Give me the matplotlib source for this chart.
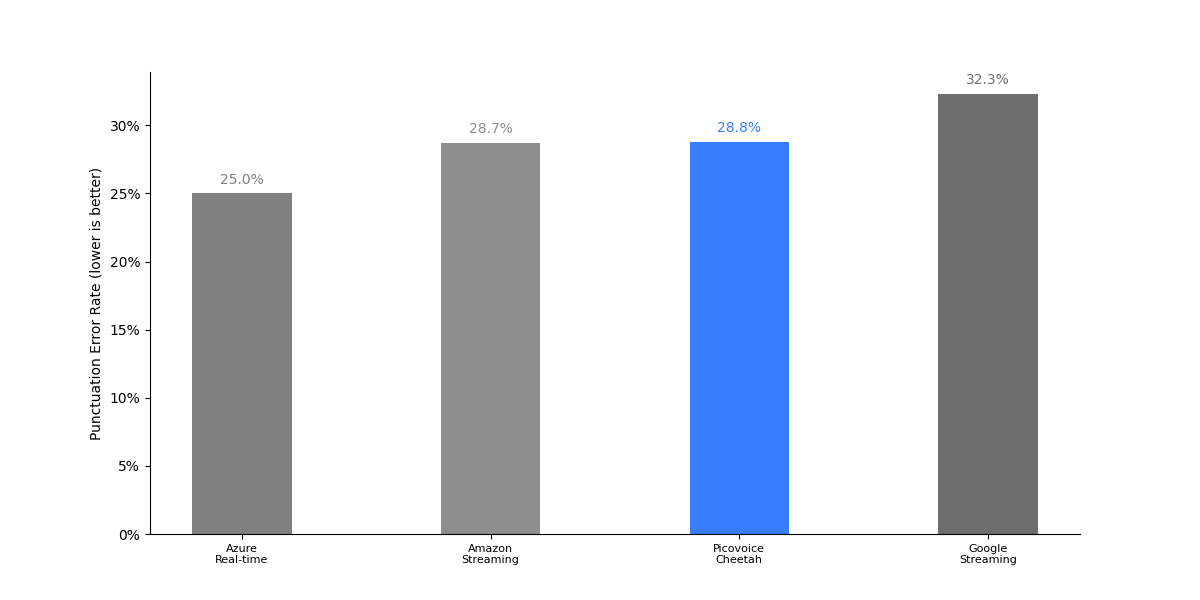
import matplotlib
matplotlib.use("Agg")
import matplotlib.pyplot as plt
from matplotlib.ticker import FuncFormatter

engines = ["Azure\nReal-time", "Amazon\nStreaming", "Picovoice\nCheetah", "Google\nStreaming"]
error_rates = [25.0, 28.7, 28.8, 32.3]
colors = ["#808080", "#8e8e8e", "#377dff", "#6e6e6e"]

fig, ax = plt.subplots(figsize=(12, 6), dpi=100)
x = list(range(len(engines)))
bars = ax.bar(x, error_rates, width=0.4, color=colors)
for xi, v, c in zip(x, error_rates, colors):
    ax.text(xi, v + 0.5, f"{v:.1f}%", ha="center", va="bottom", color=c, fontsize=10)

ax.set_xticks(x)
ax.set_xticklabels(engines, fontsize=8)
ax.yaxis.set_major_formatter(FuncFormatter(lambda v, p: f"{v:.0f}%"))
ax.set_ylabel("Punctuation Error Rate (lower is better)")
ax.spines["top"].set_visible(False)
ax.spines["right"].set_visible(False)

fig.savefig("out.png")
